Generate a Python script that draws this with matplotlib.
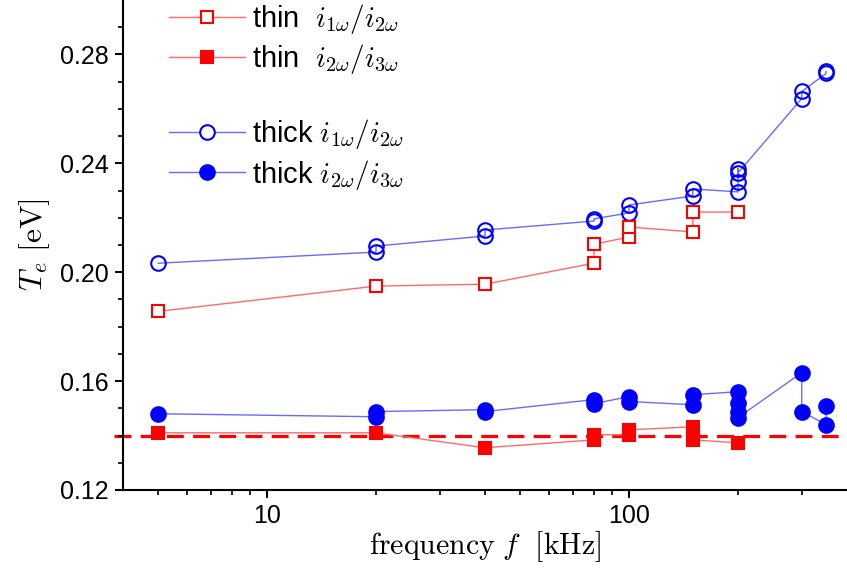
import numpy as np
import matplotlib
matplotlib.use('Agg')
from matplotlib import pyplot as plt
from matplotlib.lines import Line2D
from matplotlib.ticker import FixedLocator, NullFormatter

plt.rcParams['font.family'] = ['Liberation Sans', 'DejaVu Sans']
plt.rcParams['mathtext.fontset'] = 'cm'

# thin probe, i_1w / i_2w
thin12_f = [5, 20, 40, 80, 80, 100, 100, 150, 150, 200]
thin12_T = [0.1856, 0.1949, 0.1956, 0.2033, 0.2103, 0.2129, 0.2166, 0.2148, 0.2221, 0.2221]

# thin probe, i_2w / i_3w
thin23_f = [5, 20, 40, 80, 80, 100, 100, 150, 150, 200]
thin23_T = [0.1410, 0.1410, 0.1355, 0.1384, 0.1403, 0.1403, 0.1421, 0.1432, 0.1384, 0.1373]

# thick probe, i_1w / i_2w
thick12_f = [5, 20, 20, 40, 40, 80, 80, 100, 100, 150, 150, 200, 200, 200, 200, 300, 300, 350, 350]
thick12_T = [0.2033, 0.2074, 0.2096, 0.2133, 0.2155, 0.2188, 0.2196, 0.2218, 0.2247,
             0.2280, 0.2306, 0.2295, 0.2332, 0.2380, 0.2365, 0.2638, 0.2664, 0.2730, 0.2738]

# thick probe, i_2w / i_3w
thick23_f = [5, 20, 20, 40, 40, 80, 80, 100, 100, 150, 150, 200, 200, 200, 200, 300, 300, 350, 350]
thick23_T = [0.1480, 0.1469, 0.1488, 0.1495, 0.1488, 0.1532, 0.1517, 0.1543, 0.1525,
             0.1513, 0.1550, 0.1561, 0.1521, 0.1488, 0.1466, 0.1631, 0.1488, 0.1440, 0.1510]

T_ref = 0.14

RED = '#ff0000'
BLUE = '#0000ff'
RED_LINE = '#ff6a6a'
BLUE_LINE = '#6a6aff'

fig = plt.figure(figsize=(8.47, 5.73), dpi=100)
ax = fig.add_axes([0.1452, 0.1449, 0.8548, 0.8551])

ax.axhline(T_ref, xmin=-0.012, xmax=1.0, color=RED, lw=2.3,
           linestyle=(0, (5.3, 2.9)), clip_on=False, zorder=1)

ax.plot(thin12_f, thin12_T, color=RED_LINE, lw=1, marker='s', ms=9,
        mfc='white', mec=RED, mew=1.5, zorder=3)
ax.plot(thin23_f, thin23_T, color=RED_LINE, lw=1, marker='s', ms=9,
        mfc=RED, mec=RED, mew=1.5, zorder=3)
ax.plot(thick12_f, thick12_T, color=BLUE_LINE, lw=1, marker='o', ms=10.5,
        mfc='none', mec=BLUE, mew=1.5, zorder=2)
ax.plot(thick23_f, thick23_T, color=BLUE_LINE, lw=1, marker='o', ms=10.5,
        mfc=BLUE, mec=BLUE, mew=1.5, zorder=2)

ax.set_xscale('log')
ax.set_xlim(4, 400)
ax.set_ylim(0.12, 0.30)
ax.set_xticks([10, 100])
ax.set_xticklabels(['10', '100'])
ax.xaxis.set_minor_locator(FixedLocator([5, 6, 7, 8, 9, 20, 30, 40, 50, 60, 70, 80, 90, 200, 300]))
ax.xaxis.set_minor_formatter(NullFormatter())
ax.set_yticks([0.12, 0.16, 0.20, 0.24, 0.28])
ax.set_yticklabels(['0.12', '0.16', '0.20', '0.24', '0.28'])
ax.yaxis.set_minor_locator(FixedLocator(np.arange(0.13, 0.30, 0.01)))

for s in ['top', 'right']:
    ax.spines[s].set_visible(False)
for s in ['left', 'bottom']:
    ax.spines[s].set_linewidth(1.5)
ax.tick_params(which='major', direction='out', length=6, width=1.5, labelsize=18, pad=4)
ax.tick_params(which='minor', direction='out', length=3.5, width=1.2)

ax.set_xlabel(r'$\mathrm{frequency}\ f\ \ [\mathrm{kHz}]$', fontsize=21.5, labelpad=1)
ax.set_ylabel(r'$T_e\ [\mathrm{eV}]$', fontsize=22.5, labelpad=6)

handles = [
    Line2D([], [], color=RED_LINE, lw=1, marker='s', ms=9, mfc='white', mec=RED, mew=1.5),
    Line2D([], [], color=RED_LINE, lw=1, marker='s', ms=9, mfc=RED, mec=RED, mew=1.5),
    Line2D([], [], color='none'),
    Line2D([], [], color=BLUE_LINE, lw=1, marker='o', ms=10.5, mfc='white', mec=BLUE, mew=1.5),
    Line2D([], [], color=BLUE_LINE, lw=1, marker='o', ms=10.5, mfc=BLUE, mec=BLUE, mew=1.5),
]
labels = [
    r'thin  $i_{1\omega}/i_{2\omega}$',
    r'thin  $i_{2\omega}/i_{3\omega}$',
    ' ',
    r'thick $i_{1\omega}/i_{2\omega}$',
    r'thick $i_{2\omega}/i_{3\omega}$',
]
ax.legend(handles, labels, loc='upper left', bbox_to_anchor=(0.047, 1.02),
          frameon=False, fontsize=21, handlelength=2.6, handletextpad=0.25,
          labelspacing=0.22, borderaxespad=0)

plt.savefig('out.png', dpi=100)
